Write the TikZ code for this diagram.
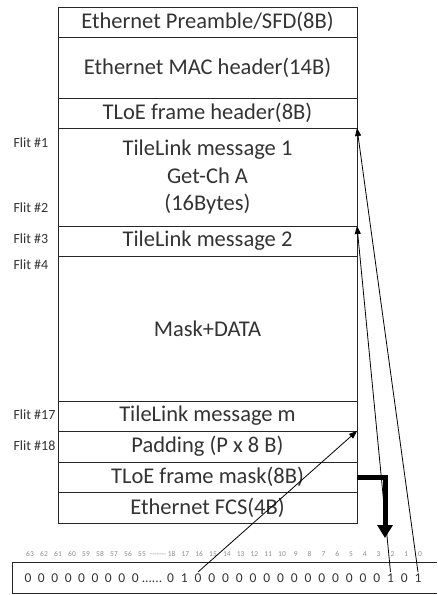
\documentclass[tikz,border=0pt]{standalone}
\usepackage{fontspec}
\setmainfont{Carlito}
\usetikzlibrary{arrows.meta, positioning}

\begin{document}
\begin{tikzpicture}
    [x=1pt, y=-1pt,
     font=\fontsize{22.5}{27.5}\selectfont,
     >={Triangle[length=8pt, width=6pt]},
     field/.style={draw=black!85, line width=.8pt, minimum width=299pt,
                   inner sep=0pt, outer sep=0pt, text=black!80, align=center},
     flit/.style={anchor=west, text=black!80, font=\fontsize{14}{16}\selectfont},
     bitno/.style={anchor=base, text=black!45, font=\fontsize{7.5}{8}\selectfont},
     bit/.style={anchor=base, text=black!80, inner sep=1pt,
                 font=\fontsize{13.5}{15}\selectfont},
    ]
    \useasboundingbox (0,0) rectangle (437,595);

    % TLoE frame
    \node[field, minimum height=30pt] (pre) at (207.5,22) {Ethernet Preamble/SFD(8B)};
    \node[field, minimum height=61pt, below=0pt of pre] (mac) {Ethernet MAC header(14B)};
    \node[field, minimum height=30pt, below=0pt of mac] (hdr) {TLoE frame header(8B)};
    \node[field, minimum height=98pt, below=0pt of hdr] (msg1)
        {TileLink message 1\\Get-Ch A\\(16Bytes)};
    \node[field, minimum height=30pt, below=0pt of msg1] (msg2) {TileLink message 2};
    \node[field, minimum height=145pt, below=0pt of msg2] (data) {Mask+DATA};
    \node[field, minimum height=30pt, below=0pt of data] (msgm) {TileLink message m};
    \node[field, minimum height=31pt, below=0pt of msgm] (pad) {Padding (P x 8 B)};
    \node[field, minimum height=30pt, below=0pt of pad] (mask) {TLoE frame mask(8B)};
    \node[field, minimum height=31pt, below=0pt of mask] (fcs) {Ethernet FCS(4B)};

    % Flit numbers
    \node[flit] (f1) at (10,143) {Flit \#1};
    \node[flit] (f2) at (10,208) {Flit \#2};
    \node[flit] (f3) at (10,239) {Flit \#3};
    \node[flit] (f4) at (10,265) {Flit \#4};
    \node[flit] (f17) at (10,415) {Flit \#17};
    \node[flit] (f18) at (10,446) {Flit \#18};

    % Mask register
    \draw[black!85, line width=1pt] (437,562) -| (12,593) -- (437,593);
    \foreach \k in {55,...,63}
        \node[bitno] (n\k) at (30+14*63-14*\k, 556) {\k};
    \node[bitno] (gap) at (158,556) {{-}{-}{-}{-}{-}{-}{-}};
    \foreach \k in {0,...,18}
        \node[bitno] (n\k) at (420-13.8*\k, 556) {\k};
    \foreach \i in {0,...,8}
        \node[bit] (h\i) at (28+13.4*\i, 582) {0};
    \node[bit] (dots) at (152,582) {......};
    \foreach \v [count=\k from 0] in {1,0,1,0,0,0,0,0,0,0,0,0,0,0,0,0,0,1,0}
        \node[bit] (b\k) at (418-13.75*\k, 582) {\v};

    % Mask bits to flits
    \draw[->, line width=.8pt] (b0.north) -- (msg1.north east);
    \draw[->, line width=.8pt] (b2.north) -- (msg2.north east);
    \draw[->, line width=.8pt] (b16.north) -- (pad.north east);

    \coordinate (drop) at (385,538);
    \draw[-{Triangle[length=13pt, width=15pt]}, line width=5pt] (mask.east) -| (drop);
\end{tikzpicture}
\end{document}
